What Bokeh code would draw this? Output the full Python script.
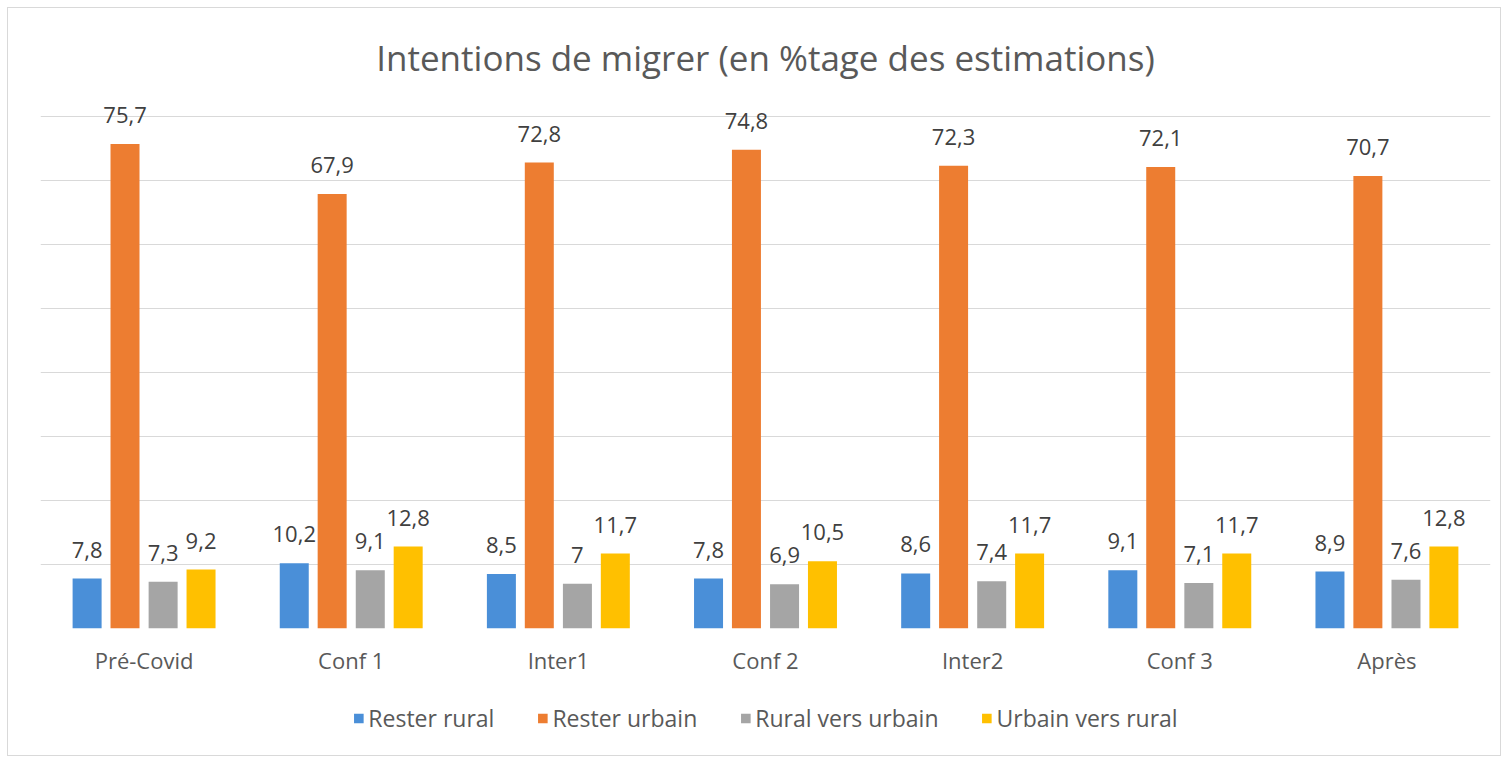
from bokeh.plotting import figure
from bokeh.layouts import column
from bokeh.models import (FactorRange, Range1d, FixedTicker, Legend, LegendItem,
                          Label, ColumnDataSource)
from bokeh.transform import dodge
from bokeh.core.properties import value
from bokeh.embed import file_html
from bokeh.resources import INLINE

categories = ["Pré-Covid", "Conf 1", "Inter1", "Conf 2", "Inter2", "Conf 3", "Après"]
rester_rural = [7.8, 10.2, 8.5, 7.8, 8.6, 9.1, 8.9]
rester_urbain = [75.7, 67.9, 72.8, 74.8, 72.3, 72.1, 70.7]
rural_vers_urbain = [7.3, 9.1, 7.0, 6.9, 7.4, 7.1, 7.6]
urbain_vers_rural = [9.2, 12.8, 11.7, 10.5, 11.7, 11.7, 12.8]
series_names = ["Rester rural", "Rester urbain", "Rural vers urbain", "Urbain vers rural"]
series_values = [rester_rural, rester_urbain, rural_vers_urbain, urbain_vers_rural]
colors = ["#4A8FD8", "#ED7D31", "#A5A5A5", "#FFC000"]
offsets = [-0.275, -0.092, 0.092, 0.275]
title_text = "Intentions de migrer (en %tage des estimations)"
grid_ticks = [0, 10, 20, 30, 40, 50, 60, 70, 80]

FONT = "Open Sans"

W = 1492
H1, H2 = 690, 57

# ---- main chart ----
p = figure(width=W, height=H1, output_backend="svg", toolbar_location=None,
           x_range=FactorRange(*categories, range_padding=0),
           y_range=Range1d(0, 93.75),
           min_border_left=32, min_border_right=10, min_border_top=20,
           min_border_bottom=70)
p.outline_line_color = None
p.background_fill_color = "white"
p.border_fill_color = "white"

p.yaxis.visible = False
p.xgrid.grid_line_color = None
p.ygrid.ticker = FixedTicker(ticks=grid_ticks)
p.ygrid.grid_line_color = "#D9D9D9"
p.ygrid.grid_line_width = 1

p.xaxis.axis_line_color = None
p.xaxis.major_tick_line_color = None
p.xaxis.minor_tick_line_color = None
p.xaxis.major_label_text_font = FONT
p.xaxis.major_label_text_font_size = "22px"
p.xaxis.major_label_text_color = "#595959"
p.xaxis.major_label_standoff = 10

# ---- legend strip ----
p2 = figure(width=W, height=H2, output_backend="svg", toolbar_location=None,
            x_range=FactorRange(*categories), y_range=Range1d(0, 1),
            min_border_left=30, min_border_right=0, min_border_top=0,
            min_border_bottom=17)
p2.axis.visible = False
p2.grid.grid_line_color = None
p2.outline_line_color = None
p2.border_fill_color = "white"

items = []
for name, vals, col, off in zip(series_names, series_values, colors, offsets):
    src = ColumnDataSource(dict(cat=categories, v=vals,
                                lab=[f"{v:g}".replace(".", ",") for v in vals]))
    p.vbar(x=dodge("cat", off, range=p.x_range), top="v", width=0.14,
           source=src, fill_color=col, line_color=None)
    p.text(x=dodge("cat", off, range=p.x_range), y="v", text="lab", source=src,
           text_align="center", text_baseline="alphabetic", y_offset=-29,
           text_font=value(FONT), text_font_size="22px", text_color="#404040")
    r2 = p2.vbar(x=dodge("cat", off, range=p2.x_range), top="v", width=0.14,
                 source=src, fill_color=col, line_color=None, visible=False)
    items.append(LegendItem(label=name, renderers=[r2]))

legend = Legend(items=items, orientation="horizontal", location="center",
                label_text_font=FONT, label_text_font_size="23px",
                label_text_color="#595959", glyph_width=12, glyph_height=12,
                label_standoff=4, spacing=42, border_line_color=None,
                background_fill_alpha=0, inactive_fill_alpha=0,
                margin=0, padding=2)
p2.add_layout(legend, "center")

p.add_layout(Label(x=3.5, y=89.2, text=title_text, text_align="center",
                   text_baseline="middle", text_font=FONT,
                   text_font_size="35px", text_color="#595959"))

layout = column(p, p2, spacing=0)
layout.styles = {"margin": "7px 0 0 7px", "border": "1px solid #D9D9D9",
                 "background-color": "white"}

open("out.html", "w").write(file_html(layout, INLINE))
